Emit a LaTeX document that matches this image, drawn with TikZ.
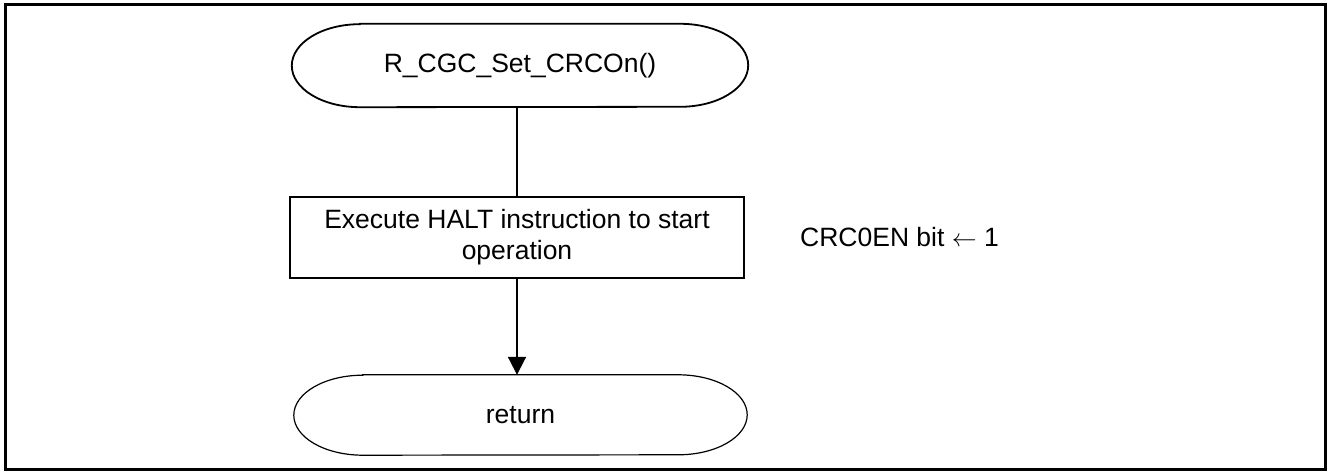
\documentclass[tikz,border=0pt]{standalone}
\usepackage{fontspec}
\setmainfont{Liberation Sans}
\usetikzlibrary{arrows.meta}
\begin{document}
\begin{tikzpicture}[x=1pt,y=1pt,
  txt/.style={font=\fontsize{26.5}{31}\selectfont, inner sep=0pt, align=center},
  termbox/.style={txt, minimum width=456pt, minimum height=83pt},
  procbox/.style={txt, draw, line width=1.8pt, minimum width=454pt, minimum height=81pt},
  conn/.style={line width=2pt},
  arr/.style={conn, -{Triangle[length=18pt,width=18pt]}}
]
\useasboundingbox (0,0) rectangle (1328,474);
\draw[line width=3pt] (5,5) rectangle (1325,469);

% start terminal
\node[termbox] (start) at (520,408.5) {R\_CGC\_Set\_CRCOn()};
\draw[line width=1.8pt]
  ([xshift=68pt]start.north west) -- ([xshift=-68pt]start.north east)
  arc[start angle=90,end angle=-90,x radius=68pt,y radius=41.5pt]
  -- ([xshift=68pt]start.south west)
  arc[start angle=270,end angle=90,x radius=68pt,y radius=41.5pt] -- cycle;

% process
\node[procbox] (proc) at (517,236.5) {Execute HALT instruction to start\\operation};
\node[txt, anchor=base west] (note) at (800,227) {CRC0EN bit $\leftarrow$ 1};

% return terminal
\node[termbox, minimum width=453pt, minimum height=80pt] (ret) at (520.5,59) {return};
\draw[line width=1.2pt]
  ([xshift=69pt]ret.north west) -- ([xshift=-69pt]ret.north east)
  arc[start angle=90,end angle=-90,x radius=69pt,y radius=40pt]
  -- ([xshift=69pt]ret.south west)
  arc[start angle=270,end angle=90,x radius=69pt,y radius=40pt] -- cycle;

% connectors
\draw[conn] (start.south -| proc.north) -- (proc.north);
\draw[arr] (proc.south) -- (proc.south |- ret.north);
\end{tikzpicture}
\end{document}
